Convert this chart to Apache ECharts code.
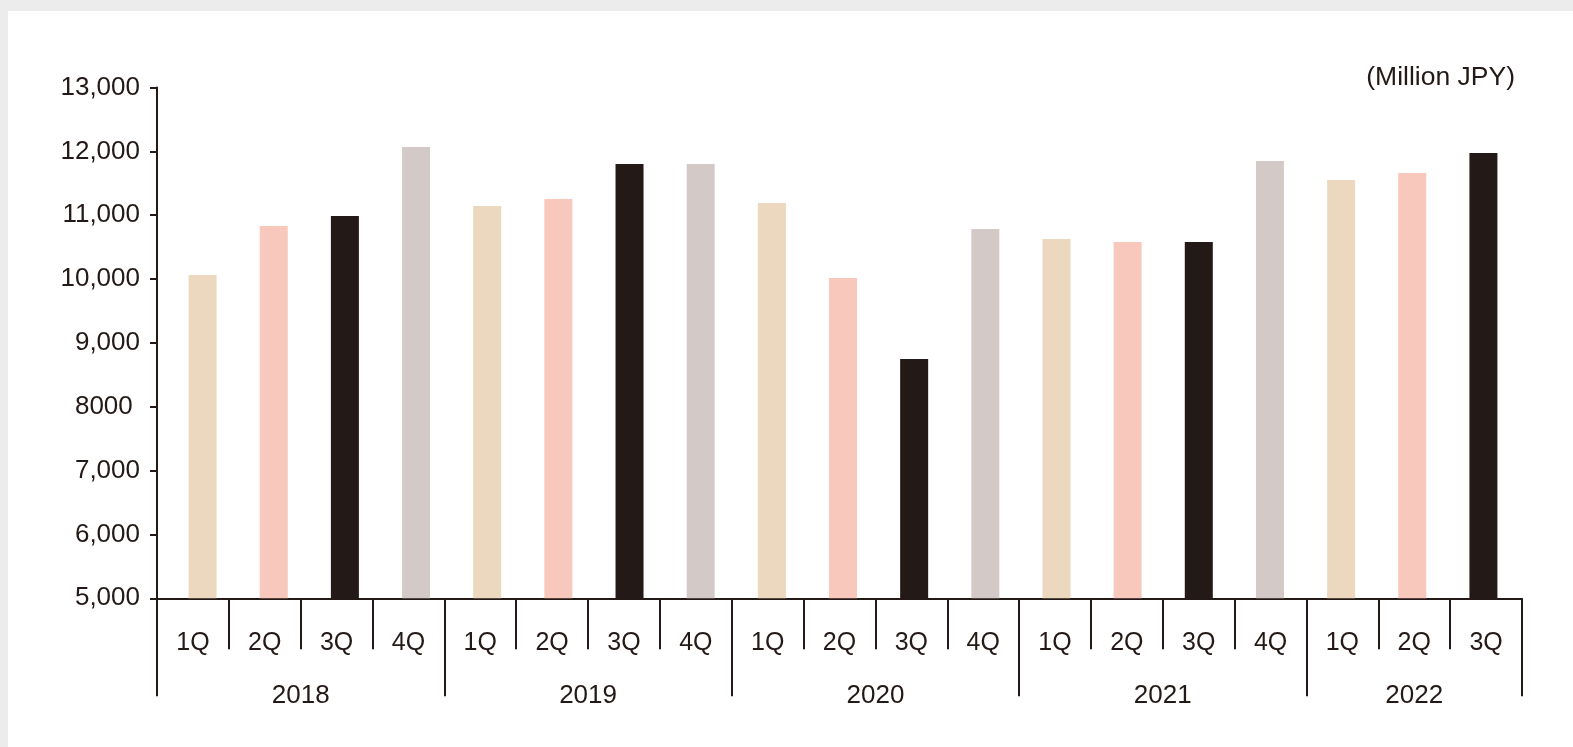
<!DOCTYPE html>
<html>
<head>
<meta charset="utf-8">
<script src="https://cdn.jsdelivr.net/npm/echarts@6/dist/echarts.min.js"></script>
<style>
  html, body { margin: 0; padding: 0; width: 1573px; height: 747px; overflow: hidden;
    background: #ececec; }
  #card { position: absolute; left: 8px; top: 11px; right: 0; bottom: 0; background: #ffffff; }
  #chart { position: absolute; left: 0; top: 0; width: 1573px; height: 747px; }
</style>
</head>
<body>
<div id="card"></div>
<div id="chart"></div>
<script>
const quarters = ['1Q','2Q','3Q','4Q','1Q','2Q','3Q','4Q','1Q','2Q','3Q','4Q','1Q','2Q','3Q','4Q','1Q','2Q','3Q'];
const yearOfBar = ['2018','2018','2018','2018','2019','2019','2019','2019','2020','2020','2020','2020','2021','2021','2021','2021','2022','2022','2022'];
const years = ['2018','2019','2020','2021','2022'];
const values = [10063, 10831, 10987, 12068, 11144, 11254, 11802, 11802, 11190, 10016, 8748, 10784, 10627, 10580, 10580, 11849, 11551, 11661, 11974];
const quarterColors = {'1Q': '#ebd8be', '2Q': '#f7c8bb', '3Q': '#231916', '4Q': '#d3cac7'};
const yTickLabels = ['5,000', '6,000', '7,000', '8000 ', '9,000', '10,000', '11,000', '12,000', '13,000'];
const unitLabel = '(Million JPY)';

const ink = '#231916';
const font = "'Liberation Sans', Arial, sans-serif";
const gridLeft = 157, gridRight = 51, W = 1573;
const gridTop = 87.5, gridBottom = 148.7;
const band = (W - gridLeft - gridRight) / quarters.length;

// first bar index of each year group, and index of the label slot
const yearStart = [];
yearOfBar.forEach((y, i) => { if (i === 0 || yearOfBar[i - 1] !== y) yearStart.push(i); });
const yearLabelSlot = {};
yearStart.forEach((s, k) => {
  const e = (k + 1 < yearStart.length ? yearStart[k + 1] : yearOfBar.length) - 1;
  const count = e - s + 1;
  yearLabelSlot[Math.floor(s + (count - 1) / 2)] = count % 2 === 0 ? 'a' : 'b';
});

const chart = echarts.init(document.getElementById('chart'), null, {renderer: 'canvas'});
chart.setOption({
  backgroundColor: 'transparent',
  animation: false,
  title: {
    text: unitLabel, right: 53, top: 59,
    textStyle: {fontFamily: font, fontSize: 26.5, fontWeight: 'normal', color: ink}
  },
  grid: [
    {left: gridLeft, right: gridRight, top: gridTop, bottom: gridBottom, containLabel: false},
    // the bars sit on a slightly narrower band layout than the axis categories
    {left: 167, right: 54, top: gridTop, bottom: gridBottom, containLabel: false}
  ],
  xAxis: [
    {
      type: 'category', gridIndex: 0, position: 'bottom', data: quarters, boundaryGap: true,
      axisLine: {show: true, onZero: false, lineStyle: {color: ink, width: 2}},
      axisTick: {show: true, interval: 0, length: 51, lineStyle: {color: ink, width: 2}},
      axisLabel: {interval: 0, margin: 32, fontFamily: font, fontSize: 25, color: ink},
      splitLine: {show: false}
    },
    {
      type: 'category', gridIndex: 0, position: 'bottom', data: yearOfBar, boundaryGap: true,
      axisLine: {show: false, onZero: false},
      axisTick: {show: true, length: 98, interval: (i) => yearStart.indexOf(i) >= 0,
        lineStyle: {color: ink, width: 2}},
      axisLabel: {
        margin: 85, color: ink, fontFamily: font, fontSize: 26,
        interval: (i) => yearLabelSlot[i] !== undefined,
        formatter: (v, i) => '{' + yearLabelSlot[i] + '|' + v + '}',
        rich: {
          a: {fontFamily: font, fontSize: 26, color: ink, padding: [0, 0, 0, band]},
          b: {fontFamily: font, fontSize: 26, color: ink, padding: [0, 0, 0, 0]}
        }
      },
      splitLine: {show: false}
    },
    {
      type: 'category', gridIndex: 1, data: quarters, boundaryGap: true, show: false
    }
  ],
  yAxis: [
    {
      type: 'value', gridIndex: 0, min: 5000, max: 13000, interval: 1000,
      axisLine: {show: true, lineStyle: {color: ink, width: 2}},
      axisTick: {show: true, length: 7, lineStyle: {color: ink, width: 2}},
      axisLabel: {
        margin: 17, fontFamily: font, fontSize: 26, color: ink, padding: [3, 0, 0, 0],
        formatter: (v) => yTickLabels[Math.round((v - 5000) / 1000)]
      },
      splitLine: {show: false}
    },
    {
      type: 'value', gridIndex: 1, min: 5000, max: 13000, interval: 1000, show: false,
      splitLine: {show: false}
    }
  ],
  series: [{
    type: 'bar', xAxisIndex: 2, yAxisIndex: 1, barWidth: 28, z: 1,
    data: values.map((v, i) => ({value: v, itemStyle: {color: quarterColors[quarters[i]]}}))
  }]
});
</script>
</body>
</html>
